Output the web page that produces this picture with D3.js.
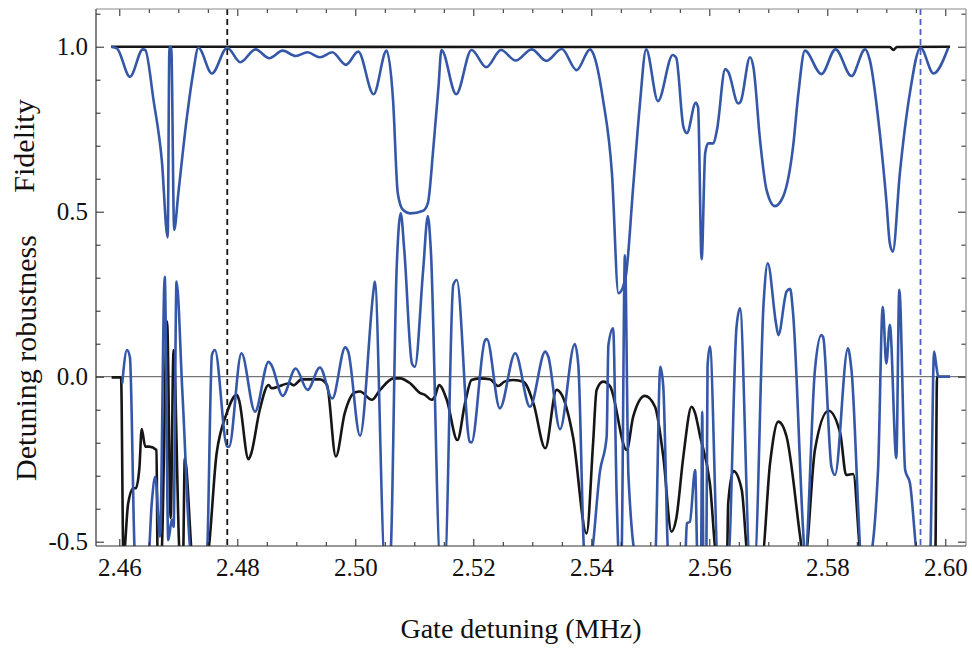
<!DOCTYPE html>
<html>
<head>
<meta charset="utf-8">
<script src="https://cdn.jsdelivr.net/npm/d3@7"></script>
<style>
  body { margin: 0; background: #fff; }
  svg { display: block; }
  svg text { font-family: "Liberation Serif", "DejaVu Serif", serif !important; fill: #111; }
</style>
</head>
<body>
<svg id="chart" width="972" height="648"></svg>
<script>
// Values that fall below the visible range are stored as this level and clipped.
const OFF = -0.55;

// Gate fidelity vs. detuning (blue: driven gate, black: robust gate)
const fidelityBlue = [
  [2.4586,1.0],[2.4596,0.995],[2.4618,0.909],[2.4640,0.992],[2.4644,0.99],[2.4658,0.838],[2.4672,0.657],
  [2.4682,0.422],[2.4685,0.999],[2.4688,0.999],[2.4693,0.445],[2.4700,0.555],[2.4714,0.778],[2.4725,0.919],
  [2.4734,0.997],[2.4757,0.919],[2.4783,0.997],[2.4805,0.953],[2.4831,0.992],[2.4854,0.965],[2.4877,0.988],
  [2.4899,0.972],[2.4919,0.983],[2.4940,0.968],[2.4961,0.983],[2.4984,0.945],[2.5005,0.985],[2.5031,0.856],
  [2.5053,0.988],[2.5064,0.838],[2.5072,0.556],[2.5081,0.505],[2.5093,0.495],[2.5115,0.503],[2.5123,0.526],
  [2.5132,0.687],[2.5141,0.879],[2.5146,0.99],[2.5171,0.856],[2.5197,0.99],[2.5222,0.938],[2.5247,0.99],
  [2.5272,0.958],[2.5299,0.992],[2.5324,0.957],[2.5350,0.993],[2.5375,0.929],[2.5398,0.992],[2.5403,0.98],
  [2.5420,0.838],[2.5435,0.616],[2.5446,0.253],[2.5458,0.30],[2.5471,0.576],[2.5482,0.818],[2.5493,0.992],
  [2.5513,0.835],[2.5538,0.975],[2.5544,0.966],[2.5556,0.758],[2.5562,0.738],[2.5577,0.830],[2.5581,0.816],
  [2.5587,0.356],[2.5593,0.677],[2.5598,0.707],[2.5607,0.707],[2.5613,0.748],[2.5627,0.932],[2.5632,0.924],
  [2.5649,0.828],[2.5653,0.833],[2.5669,0.968],[2.5675,0.935],[2.5686,0.717],[2.5697,0.566],[2.5711,0.517],
  [2.5725,0.545],[2.5742,0.697],[2.5751,0.859],[2.5762,0.988],[2.5790,0.917],[2.5814,0.992],[2.5841,0.911],
  [2.5864,0.992],[2.5872,0.96],[2.5889,0.738],[2.5900,0.535],[2.5906,0.404],[2.5911,0.379],[2.5923,0.617],
  [2.5940,0.860],[2.5958,0.997],[2.5980,0.919],[2.6005,0.997]
];
const fidelityBlack = [
  [2.4586,1.0],[2.5500,0.999],[2.5906,0.999],[2.5912,0.99],[2.5918,0.999],[2.6008,1.0]
];

// Detuning robustness vs. detuning
const robustBlue = [
  [2.4605,-0.020],[2.4613,0.081],[2.4618,0.059],[2.4627,OFF],[2.4649,OFF],[2.4655,-0.383],[2.4661,-0.303],
  [2.4669,-0.485],[2.4677,0.303],[2.4683,-0.495],[2.4689,-0.434],[2.4692,-0.455],[2.4697,0.288],[2.4707,-0.05],
  [2.4723,OFF],[2.4748,OFF],[2.4757,0.066],[2.4762,0.081],[2.4783,-0.212],[2.4786,-0.212],[2.4807,0.071],
  [2.4830,-0.106],[2.4853,0.045],[2.4858,0.035],[2.4877,-0.058],[2.4899,0.025],[2.4919,-0.040],[2.4940,0.028],
  [2.4961,-0.066],[2.4983,0.089],[2.4988,0.076],[2.5008,-0.179],[2.5031,0.263],[2.5033,0.288],[2.5050,OFF],
  [2.5059,OFF],[2.5070,0.323],[2.5077,0.495],[2.5083,0.384],[2.5096,0.040],[2.5101,0.030],[2.5115,0.323],
  [2.5123,0.487],[2.5128,0.384],[2.5144,OFF],[2.5152,OFF],[2.5166,0.278],[2.5172,0.293],[2.5194,-0.197],
  [2.5197,-0.199],[2.5220,0.111],[2.5223,0.114],[2.5245,-0.096],[2.5271,0.071],[2.5296,-0.091],[2.5322,0.076],
  [2.5327,0.061],[2.5347,-0.159],[2.5372,0.099],[2.5378,0.035],[2.5389,OFF],[2.5398,OFF],[2.5415,-0.283],
  [2.5426,-0.182],[2.5429,0.096],[2.5437,0.147],[2.5443,-0.364],[2.5447,OFF],[2.5451,OFF],[2.5457,0.368],
  [2.5463,-0.303],[2.5477,OFF],[2.5508,OFF],[2.5517,0.030],[2.5522,-0.030],[2.5531,OFF],[2.5559,OFF],
  [2.5562,-0.444],[2.5567,-0.44],[2.5576,-0.283],[2.5580,OFF],[2.5586,OFF],[2.5588,-0.106],[2.5590,OFF],
  [2.5595,OFF],[2.5597,0.030],[2.5601,0.091],[2.5615,OFF],[2.5632,OFF],[2.5646,0.147],[2.5652,0.207],
  [2.5669,OFF],[2.5677,OFF],[2.5692,0.222],[2.5699,0.344],[2.5713,0.162],[2.5717,0.126],[2.5731,0.258],
  [2.5737,0.266],[2.5742,0.192],[2.5759,-0.465],[2.5762,OFF],[2.5779,0.020],[2.5790,0.126],[2.5793,0.12],
  [2.5807,-0.273],[2.5813,-0.298],[2.5835,0.086],[2.5841,0.02],[2.5859,OFF],[2.5871,OFF],[2.5886,-0.283],
  [2.5894,0.212],[2.5900,0.040],[2.5906,0.157],[2.5917,-0.247],[2.5922,0.263],[2.5932,-0.283],[2.5940,-0.322],
  [2.5954,OFF],[2.5974,OFF],[2.5981,0.076],[2.5985,0.030],[2.5988,0.0],[2.6008,0.0]
];
const robustBlack = [
  [2.4587,-0.002],[2.4603,-0.002],[2.4607,OFF],[2.4615,-0.384],[2.4624,-0.338],[2.4628,-0.338],[2.4634,-0.278],
  [2.4638,-0.159],[2.4644,-0.212],[2.4651,-0.212],[2.4663,-0.222],[2.4665,OFF],[2.4671,OFF],[2.4681,0.167],
  [2.4687,-0.429],[2.4692,0.081],[2.4703,OFF],[2.4708,OFF],[2.4711,-0.247],[2.4725,OFF],[2.4748,OFF],
  [2.4765,-0.232],[2.4782,-0.111],[2.4799,-0.055],[2.4803,-0.071],[2.4819,-0.250],[2.4823,-0.236],
  [2.4838,-0.101],[2.4853,-0.025],[2.4858,-0.035],[2.4889,-0.020],[2.4895,-0.026],[2.4909,-0.008],
  [2.4940,-0.008],[2.4952,-0.025],[2.4967,-0.242],[2.4982,-0.111],[2.4999,-0.048],[2.5008,-0.045],
  [2.5028,-0.070],[2.5042,-0.040],[2.5065,-0.005],[2.5076,-0.005],[2.5093,-0.020],[2.5110,-0.050],
  [2.5118,-0.055],[2.5129,-0.070],[2.5135,-0.060],[2.5142,-0.025],[2.5155,-0.070],[2.5173,-0.192],
  [2.5186,-0.080],[2.5197,-0.010],[2.5211,-0.005],[2.5228,-0.008],[2.5242,-0.028],[2.5253,-0.015],
  [2.5268,-0.010],[2.5285,-0.015],[2.5302,-0.081],[2.5322,-0.217],[2.5341,-0.040],[2.5350,-0.055],
  [2.5369,-0.182],[2.5392,-0.475],[2.5403,-0.203],[2.5409,-0.040],[2.5420,-0.015],[2.5432,-0.030],
  [2.5460,-0.222],[2.5471,-0.121],[2.5491,-0.058],[2.5508,-0.091],[2.5522,-0.242],[2.5536,-0.470],
  [2.5544,-0.43],[2.5556,-0.242],[2.5570,-0.091],[2.5576,-0.111],[2.5584,-0.177],[2.5601,-0.323],
  [2.5613,OFF],[2.5630,OFF],[2.5632,-0.384],[2.5641,-0.286],[2.5655,-0.343],[2.5666,OFF],[2.5689,OFF],
  [2.5703,-0.262],[2.5717,-0.136],[2.5731,-0.182],[2.5754,-0.485],[2.5759,OFF],[2.5762,OFF],[2.5779,-0.222],
  [2.5802,-0.103],[2.5822,-0.172],[2.5832,-0.298],[2.5844,-0.295],[2.5858,OFF],[2.5983,OFF],[2.5986,0.0],
  [2.6008,0.0]
];

// Reference detunings marked with dashed lines
const markerBlack = 2.4783;
const markerBlue = 2.5958;

// Axis ticks and labels
const xMajor = [2.46, 2.48, 2.50, 2.52, 2.54, 2.56, 2.58, 2.60];
const xTickLabels = ["2.46", "2.48", "2.50", "2.52", "2.54", "2.56", "2.58", "2.60"];
const xMinor = [2.465, 2.47, 2.475, 2.485, 2.49, 2.495, 2.505, 2.51, 2.515, 2.525, 2.53, 2.535,
                2.545, 2.55, 2.555, 2.565, 2.57, 2.575, 2.585, 2.59, 2.595];
const yMajor = [-0.5, 0.0, 0.5, 1.0];
const yTickLabels = ["-0.5", "0.0", "0.5", "1.0"];
const yMinor = [-0.4, -0.3, -0.2, -0.1, 0.1, 0.2, 0.3, 0.4, 0.6, 0.7, 0.8, 0.9, 1.1];

const BLUE = "#3557a7";
const BLACK = "#161616";
const SERIF = '"Liberation Serif", "DejaVu Serif", serif';

const frame = { left: 96, right: 966, top: 9, bottom: 546 };
const x = d3.scaleLinear().domain([2.46, 2.60]).range([119.3, 945.3]);
const y = d3.scaleLinear().domain([0, 1]).range([376.7, 46.7]);

const svg = d3.select("#chart");

svg.append("defs").append("clipPath").attr("id", "plot-clip")
  .append("rect")
  .attr("x", frame.left).attr("y", frame.top)
  .attr("width", frame.right - frame.left).attr("height", frame.bottom - frame.top);

// zero reference line
svg.append("line")
  .attr("x1", frame.left).attr("x2", frame.right)
  .attr("y1", y(0)).attr("y2", y(0))
  .attr("stroke", "#555").attr("stroke-width", 1);

const plot = svg.append("g").attr("clip-path", "url(#plot-clip)");

const line = d3.line().x(d => x(d[0])).y(d => y(d[1])).curve(d3.curveMonotoneX);

const series = [
  { data: fidelityBlack, color: BLACK },
  { data: robustBlack, color: BLACK },
  { data: fidelityBlue, color: BLUE },
  { data: robustBlue, color: BLUE }
];
plot.selectAll("path.series").data(series).join("path")
  .attr("class", "series")
  .attr("d", d => line(d.data))
  .attr("fill", "none")
  .attr("stroke", d => d.color)
  .attr("stroke-width", 2.6)
  .attr("stroke-linejoin", "round");

// dashed markers
plot.append("line")
  .attr("x1", x(markerBlack)).attr("x2", x(markerBlack))
  .attr("y1", frame.top).attr("y2", frame.bottom)
  .attr("stroke", BLACK).attr("stroke-width", 1.8).attr("stroke-dasharray", "6,4");
plot.append("line")
  .attr("x1", x(markerBlue)).attr("x2", x(markerBlue))
  .attr("y1", frame.top).attr("y2", frame.bottom)
  .attr("stroke", "#5061c2").attr("stroke-width", 1.8).attr("stroke-dasharray", "6,4");

// axes: ticks point inward on all four sides
function styleAxis(g) {
  g.attr("font-family", SERIF).attr("font-size", 25);
  g.select(".domain").remove();
  g.selectAll(".tick line").attr("stroke", "#222").attr("stroke-width", 1);
  g.selectAll(".tick text").attr("font-size", 25).attr("fill", "#111")
    .attr("font-family", SERIF);
}

svg.append("g").attr("transform", `translate(0,${frame.bottom})`)
  .call(d3.axisBottom(x).tickValues(xMajor).tickSize(-7).tickPadding(12)
    .tickFormat((d, i) => xTickLabels[i]))
  .call(styleAxis);
svg.append("g").attr("transform", `translate(0,${frame.bottom})`)
  .call(d3.axisBottom(x).tickValues(xMinor).tickSize(-4).tickFormat(""))
  .call(styleAxis);
svg.append("g").attr("transform", `translate(0,${frame.top})`)
  .call(d3.axisTop(x).tickValues(xMajor).tickSize(-7).tickFormat(""))
  .call(styleAxis);
svg.append("g").attr("transform", `translate(0,${frame.top})`)
  .call(d3.axisTop(x).tickValues(xMinor).tickSize(-4).tickFormat(""))
  .call(styleAxis);

svg.append("g").attr("transform", `translate(${frame.left},0)`)
  .call(d3.axisLeft(y).tickValues(yMajor).tickSize(-8).tickPadding(8)
    .tickFormat((d, i) => yTickLabels[i]))
  .call(styleAxis);
svg.append("g").attr("transform", `translate(${frame.left},0)`)
  .call(d3.axisLeft(y).tickValues(yMinor).tickSize(-4.5).tickFormat(""))
  .call(styleAxis);
svg.append("g").attr("transform", `translate(${frame.right},0)`)
  .call(d3.axisRight(y).tickValues(yMajor).tickSize(-8).tickFormat(""))
  .call(styleAxis);
svg.append("g").attr("transform", `translate(${frame.right},0)`)
  .call(d3.axisRight(y).tickValues(yMinor).tickSize(-4.5).tickFormat(""))
  .call(styleAxis);

// frame
const edges = [
  { x1: frame.left, y1: frame.top, x2: frame.right, y2: frame.top, c: "#8a8a8a" },
  { x1: frame.right, y1: frame.top, x2: frame.right, y2: frame.bottom, c: "#8a8a8a" },
  { x1: frame.left, y1: frame.bottom, x2: frame.right, y2: frame.bottom, c: "#333" },
  { x1: frame.left, y1: frame.top, x2: frame.left, y2: frame.bottom, c: "#333" }
];
svg.selectAll("line.edge").data(edges).join("line").attr("class", "edge")
  .attr("x1", d => d.x1).attr("y1", d => d.y1).attr("x2", d => d.x2).attr("y2", d => d.y2)
  .attr("stroke", d => d.c).attr("stroke-width", 1.2);

// axis titles
svg.append("text")
  .attr("x", 521).attr("y", 638)
  .attr("text-anchor", "middle").attr("font-size", 28).attr("font-family", SERIF)
  .text("Gate detuning (MHz)");
svg.append("text")
  .attr("transform", "translate(34,146) rotate(-90)")
  .attr("text-anchor", "middle").attr("font-size", 30).attr("font-family", SERIF)
  .text("Fidelity");
svg.append("text")
  .attr("transform", "translate(36,358) rotate(-90)")
  .attr("text-anchor", "middle").attr("font-size", 30).attr("font-family", SERIF)
  .text("Detuning robustness");
</script>
</body>
</html>
